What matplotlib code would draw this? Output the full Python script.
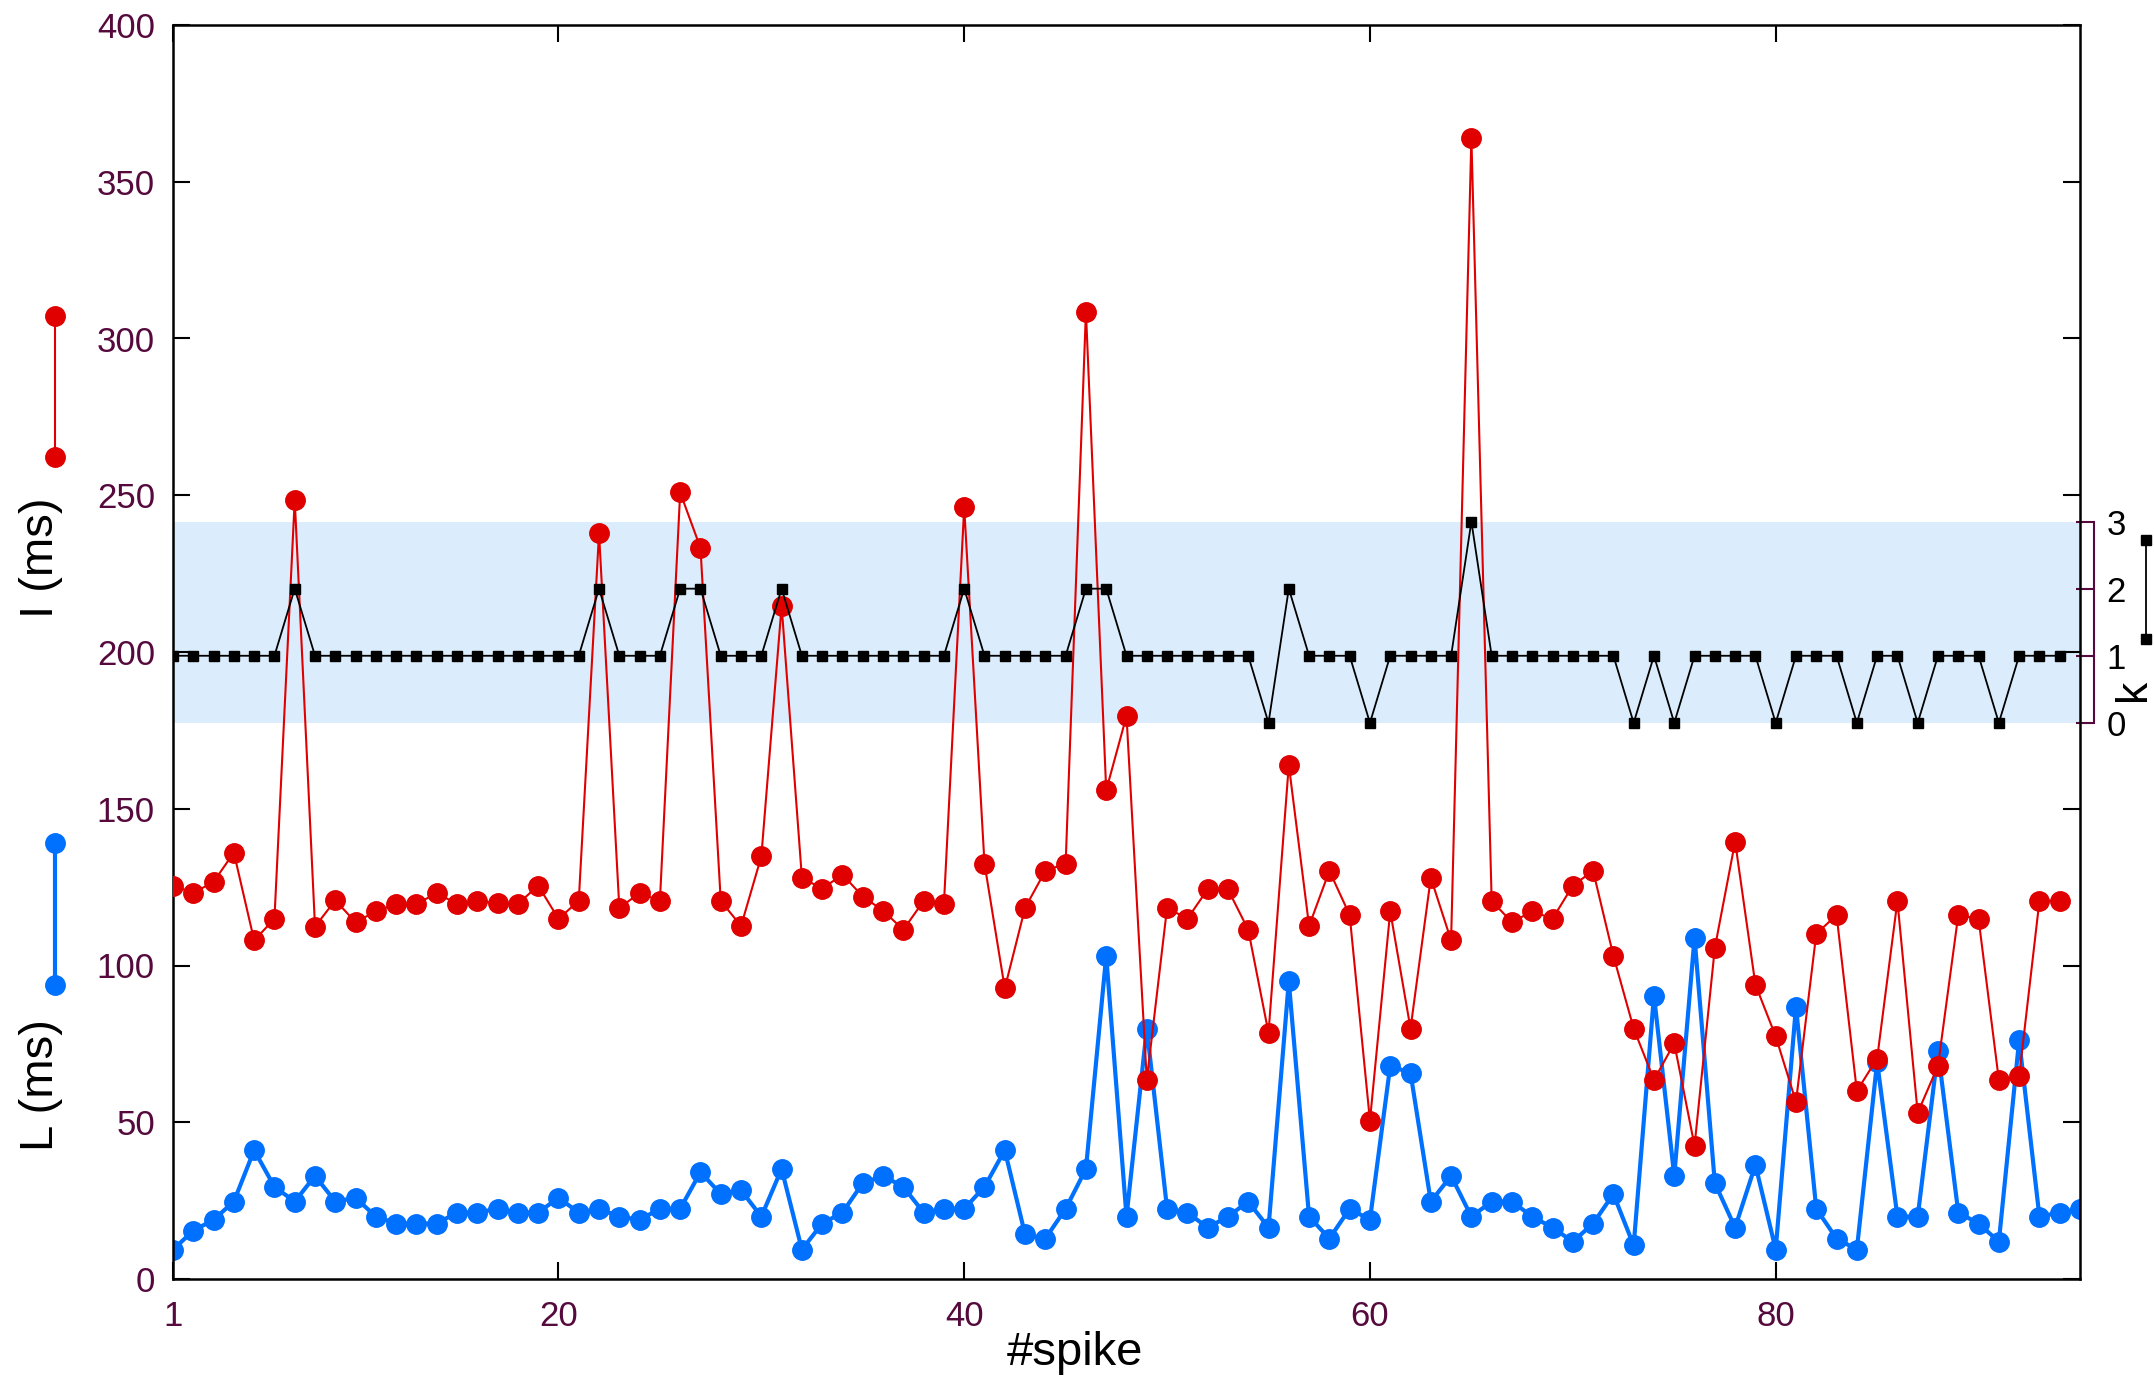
import matplotlib
matplotlib.use("Agg")
import matplotlib.pyplot as plt
from matplotlib.lines import Line2D
import numpy as np

# inter-spike interval I (ms), spikes 1..94
I_ms = [125.5, 123.1, 126.7, 136.0, 108.0, 114.9, 248.6, 112.4, 120.8, 113.8,
        117.3, 119.6, 119.6, 123.1, 119.6, 120.6, 119.8, 119.6, 125.5, 114.9,
        120.6, 237.9, 118.4, 123.1, 120.6, 250.9, 233.2, 120.6, 112.6, 134.8,
        214.7, 128.0, 124.5, 129.0, 122.0, 117.5, 111.4, 120.6, 119.6, 246.2,
        132.5, 92.7, 118.4, 130.2, 132.5, 308.6, 155.9, 179.6, 63.5, 118.4,
        114.9, 124.3, 124.3, 111.4, 78.5, 164.0, 112.6, 130.2, 116.1, 50.5,
        117.3, 79.9, 128.0, 108.0, 364.0, 120.6, 113.8, 117.3, 114.9, 125.5,
        130.2, 103.1, 79.9, 63.5, 75.2, 42.5, 105.6, 139.5, 93.9, 77.4,
        56.5, 110.1, 116.1, 60.0, 70.3, 120.6, 53.0, 68.0, 116.1, 114.9,
        63.5, 64.7, 120.6, 120.6]

# latency L (ms), spikes 1..95
L_ms = [9.4, 15.4, 18.9, 24.7, 41.1, 29.4, 24.7, 32.9, 24.7, 25.9,
        19.9, 17.7, 17.7, 17.7, 21.2, 21.2, 22.4, 21.2, 21.2, 25.9,
        21.2, 22.4, 19.9, 18.9, 22.4, 22.4, 34.1, 27.1, 28.3, 19.9,
        35.1, 9.4, 17.7, 21.2, 30.6, 32.9, 29.4, 21.2, 22.4, 22.4,
        29.4, 41.1, 14.2, 12.9, 22.4, 35.1, 103.1, 19.9, 79.9, 22.4,
        21.2, 16.4, 19.9, 24.7, 16.4, 94.9, 19.9, 12.9, 22.4, 18.9,
        68.0, 65.7, 24.7, 32.9, 19.9, 24.7, 24.7, 19.9, 16.4, 11.9,
        17.7, 27.1, 10.7, 90.4, 32.9, 108.9, 30.6, 16.4, 36.4, 9.4,
        86.9, 22.4, 12.9, 9.4, 69.2, 19.9, 19.9, 72.7, 21.2, 17.7,
        11.9, 76.2, 19.9, 21.2, 22.4]

# k per spike 1..94
k_vals = [1, 1, 1, 1, 1, 1, 2, 1, 1, 1, 1, 1, 1, 1, 1, 1, 1, 1, 1, 1,
          1, 2, 1, 1, 1, 2, 2, 1, 1, 1, 2, 1, 1, 1, 1, 1, 1, 1, 1, 2,
          1, 1, 1, 1, 1, 2, 2, 1, 1, 1, 1, 1, 1, 1, 0, 2, 1, 1, 1, 0,
          1, 1, 1, 1, 3, 1, 1, 1, 1, 1, 1, 1, 0, 1, 0, 1, 1, 1, 1, 0,
          1, 1, 1, 0, 1, 1, 0, 1, 1, 1, 0, 1, 1, 1]

x_ticks = [1, 20, 40, 60, 80]
y_ticks = [0, 50, 100, 150, 200, 250, 300, 350, 400]
k_ticks = [0, 1, 2, 3]

# k axis is mapped onto the ms scale
K0 = 177.4
KSTEP = 21.4

RED = "#e00000"
BLUE = "#0070ff"
PURPLE = "#55093c"
BAND = "#dbedfc"

W, H = 2154, 1378
plt.rcParams["font.family"] = ["Liberation Sans", "DejaVu Sans"]

fig = plt.figure(figsize=(W / 100, H / 100), dpi=100)
ax = fig.add_axes([173 / W, 1 - 1279 / H, (2080 - 173) / W, (1279 - 25) / H])


def k_to_ms(k):
    return K0 + np.asarray(k) * KSTEP


def ms_to_k(v):
    return (np.asarray(v) - K0) / KSTEP


x_I = np.arange(1, len(I_ms) + 1)
x_L = np.arange(1, len(L_ms) + 1)
x_k = np.arange(1, len(k_vals) + 1)

ax.axhspan(k_to_ms(0), k_to_ms(3), color=BAND, lw=0, zorder=0)
ax.plot(x_L, L_ms, "-o", color=BLUE, lw=3, ms=14, zorder=2)
ax.plot(x_I, I_ms, "-o", color=RED, lw=1.5, ms=14, zorder=3)
ax.plot(x_k, k_to_ms(k_vals), "-s", color="black", lw=1.3, ms=7, zorder=4)

ax.set_xlim(1, 95)
ax.set_ylim(0, 400)
ax.set_xticks(x_ticks)
ax.set_yticks(y_ticks)
ax.tick_params(direction="in", length=12, width=1.5, top=True, right=True,
               labelsize=25, labelcolor=PURPLE, pad=13)
ax.tick_params(axis="x", pad=15)
for s in ax.spines.values():
    s.set_linewidth(1.8)

# k axis on the right, offset a little outward
sec = ax.secondary_yaxis(1 + 14 / (2080 - 173), functions=(ms_to_k, k_to_ms))
sec.set_yticks(k_ticks)
sec.spines["right"].set_bounds(0, 3)
sec.spines["right"].set_color(PURPLE)
sec.spines["right"].set_linewidth(1.5)
sec.tick_params(direction="in", length=13, width=1.5, color=PURPLE,
                labelsize=25, labelcolor="black", pad=9)


def fx(px):
    return px / W


def fy(py):
    return 1 - py / H


fig.text(fx(41), fy(558), "I (ms)", rotation=90, ha="center", va="center", fontsize=34)
fig.text(fx(41), fy(1085), "L (ms)", rotation=90, ha="center", va="center", fontsize=34)
fig.text(fx(1075), fy(1353), "#spike", ha="center", va="center", fontsize=34)
fig.text(fx(2133), fy(690), "k", rotation=90, ha="center", va="center", fontsize=32)

# series key symbols beside the labels
fig.add_artist(Line2D([fx(55), fx(55)], [fy(316), fy(457)], transform=fig.transFigure,
                      color=RED, lw=1.5, marker="o", ms=14))
fig.add_artist(Line2D([fx(55), fx(55)], [fy(843), fy(985)], transform=fig.transFigure,
                      color=BLUE, lw=3, marker="o", ms=14))
fig.add_artist(Line2D([fx(2146), fx(2146)], [fy(540), fy(639)], transform=fig.transFigure,
                      color="black", lw=1.3, marker="s", ms=7))

fig.savefig("out.png", dpi=100)
